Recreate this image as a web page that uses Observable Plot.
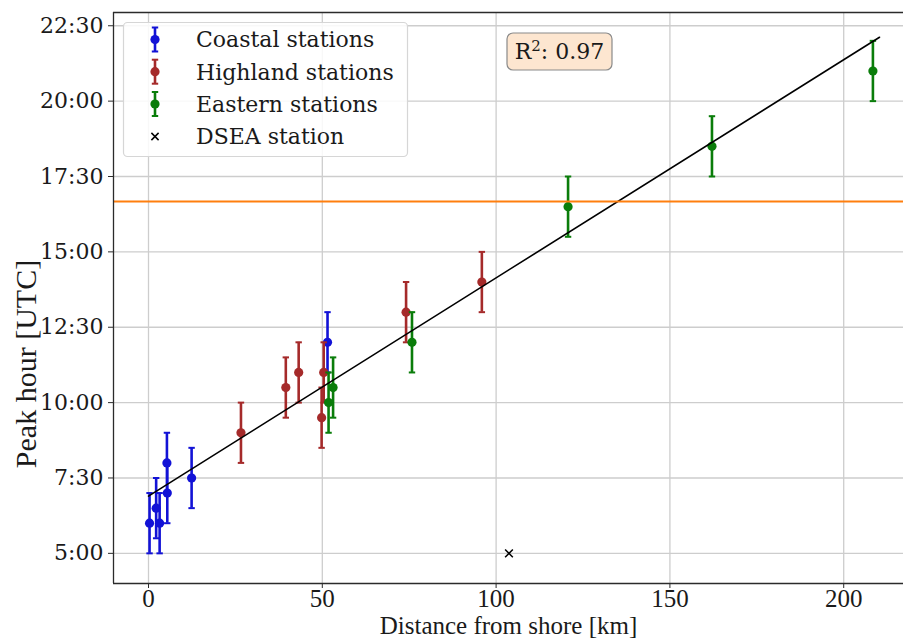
<!DOCTYPE html>
<html>
<head>
<meta charset="utf-8">
<script src="https://cdn.jsdelivr.net/npm/d3@7"></script>
<script src="https://cdn.jsdelivr.net/npm/@observablehq/plot@0.6"></script>
<style>
  html, body { margin: 0; padding: 0; background: white; }
  #chart svg { display: block; }
</style>
</head>
<body>
<div id="chart"></div>
<script>
// ---- Data ----
const coastalX   = [0.3, 2.2, 3.2, 5.3, 5.4, 12.4, 51.5];
const coastalY   = [6.0, 6.5, 6.0, 8.0, 7.0, 7.5, 12.0];
const coastalErr = [1, 1, 1, 1, 1, 1, 1];

const highlandX   = [26.6, 39.5, 43.2, 49.8, 50.4, 74.1, 95.9];
const highlandY   = [9.0, 10.5, 11.0, 9.5, 11.0, 13.0, 14.0];
const highlandErr = [1, 1, 1, 1, 1, 1, 1];

const easternX   = [51.8, 53.1, 75.8, 120.7, 162.1, 208.4];
const easternY   = [10.0, 10.5, 12.0, 16.5, 18.5, 21.0];
const easternErr = [1, 1, 1, 1, 1, 1];

const dseaX = [103.7];
const dseaY = [5.0];

const fitX = [0, 210.3];
const fitY = [6.9, 22.12];

const thresholdY = [16.67];

const xTicks = [0, 50, 100, 150, 200];
const yTicks = [5, 7.5, 10, 12.5, 15, 17.5, 20, 22.5];
const yTickLabels = ["5:00", "7:30", "10:00", "12:30", "15:00", "17:30", "20:00", "22:30"];

const seriesNames = ["Coastal stations", "Highland stations", "Eastern stations", "DSEA station"];
const rSquared = "0.97";

// ---- Build tables ----
const mk = (xs, ys, es) => xs.map((x, i) => ({x, y: ys[i], e: es[i]}));
const coastal = mk(coastalX, coastalY, coastalErr);
const highland = mk(highlandX, highlandY, highlandErr);
const eastern = mk(easternX, easternY, easternErr);
const dsea = dseaX.map((x, i) => ({x, y: dseaY[i]}));
const fit = fitX.map((x, i) => ({x, y: fitY[i]}));

const colors = {coastal: "#1212d6", highland: "#a52a2a", eastern: "#0a7d0a"};

const xDomain = [-10.07, 217.2];
const yDomain = [4.0, 22.94];

// custom symbol: horizontal cap line
const capSymbol = {
  draw(context, size) {
    const r = Math.sqrt(size / Math.PI);
    context.moveTo(-r, 0);
    context.lineTo(r, 0);
  }
};

function errorMarks(data, color) {
  return [
    Plot.ruleX(data, {x: "x", y1: d => d.y - d.e, y2: d => d.y + d.e, stroke: color, strokeWidth: 2.6}),
    Plot.dot(data, {x: "x", y: d => d.y + d.e, symbol: capSymbol, r: 3.2, stroke: color, strokeWidth: 2}),
    Plot.dot(data, {x: "x", y: d => d.y - d.e, symbol: capSymbol, r: 3.2, stroke: color, strokeWidth: 2}),
    Plot.dot(data, {x: "x", y: "y", r: 4.6, fill: color, stroke: "none"})
  ];
}

const gridColor = "#cdcdcd";
const spineColor = "#2b2b2b";

const chart = Plot.plot({
  width: 903,
  height: 638,
  marginLeft: 113,
  marginRight: 0,
  marginTop: 12,
  marginBottom: 55,
  style: {fontFamily: "DejaVu Serif", fontSize: "22px", background: "white", color: "#1a1a1a"},
  x: {domain: xDomain},
  y: {domain: yDomain},
  marks: [
    Plot.gridX(xTicks, {stroke: gridColor, strokeOpacity: 1, strokeWidth: 1.3}),
    Plot.gridY(yTicks, {stroke: gridColor, strokeOpacity: 1, strokeWidth: 1.3}),
    ...errorMarks(coastal, colors.coastal),
    ...errorMarks(highland, colors.highland),
    ...errorMarks(eastern, colors.eastern),
    Plot.dot(dsea, {x: "x", y: "y", symbol: "times", r: 3.6, stroke: "black", strokeWidth: 1.5}),
    Plot.line(fit, {x: "x", y: "y", stroke: "black", strokeWidth: 1.6}),
    Plot.ruleY(thresholdY, {stroke: "#ff7f0e", strokeWidth: 2}),
    // spines
    Plot.ruleX([xDomain[0]], {stroke: spineColor, strokeWidth: 1.3}),
    Plot.ruleY([yDomain[0]], {stroke: spineColor, strokeWidth: 1.3}),
    Plot.ruleY([yDomain[1]], {stroke: spineColor, strokeWidth: 1.3}),
    Plot.axisX({ticks: xTicks, tickSize: 5, tickPadding: 1, fontFamily: "Liberation Serif", fontSize: 25, label: null, stroke: spineColor}),
    Plot.axisY({ticks: yTicks, tickFormat: d => yTickLabels[yTicks.indexOf(d)], tickSize: 5, tickPadding: 5, fontFamily: "DejaVu Serif", fontSize: 22, label: null, stroke: spineColor}),
    Plot.text(["Distance from shore [km]"], {frameAnchor: "bottom", dy: 50, fontFamily: "Liberation Serif", fontSize: 25, fill: "#1a1a1a"}),
    Plot.text(["Peak hour [UTC]"], {frameAnchor: "left", textAnchor: "middle", dx: -87, dy: 66, rotate: -90, fontFamily: "Liberation Serif", fontSize: 30, fill: "#1a1a1a"})
  ]
});

document.getElementById("chart").appendChild(chart);

// ---- Overlays: legend and R² box ----
const svg = d3.select(chart);

const lg = svg.append("g").attr("class", "legend").attr("text-anchor", "start");
lg.append("rect")
  .attr("x", 123.5).attr("y", 22.5).attr("width", 284).attr("height", 134)
  .attr("rx", 4).attr("ry", 4)
  .attr("fill", "white").attr("fill-opacity", 0.85)
  .attr("stroke", "#d6d6d6").attr("stroke-width", 1.2);

const rows = [39.5, 71.7, 104, 136.5];
const legendColors = [colors.coastal, colors.highland, colors.eastern];
const mx = 155;
legendColors.forEach((c, i) => {
  const cy = rows[i];
  lg.append("line").attr("x1", mx).attr("x2", mx).attr("y1", cy - 12).attr("y2", cy + 12)
    .attr("stroke", c).attr("stroke-width", 2.6);
  [cy - 12, cy + 12].forEach(yy => lg.append("line")
    .attr("x1", mx - 3.2).attr("x2", mx + 3.2).attr("y1", yy).attr("y2", yy)
    .attr("stroke", c).attr("stroke-width", 2));
  lg.append("circle").attr("cx", mx).attr("cy", cy).attr("r", 4.6).attr("fill", c);
});
{
  const cy = rows[3], s = 3.6;
  lg.append("path").attr("d", `M${mx - s},${cy - s}L${mx + s},${cy + s}M${mx - s},${cy + s}L${mx + s},${cy - s}`)
    .attr("stroke", "black").attr("stroke-width", 1.5).attr("fill", "none");
}
seriesNames.forEach((name, i) => {
  lg.append("text").attr("x", 196).attr("y", rows[i]).attr("dy", "0.36em")
    .attr("text-anchor", "start")
    .attr("font-family", "DejaVu Serif").attr("font-size", 22).attr("fill", "#1a1a1a")
    .text(name);
});

const rb = svg.append("g").attr("class", "r2");
rb.append("rect")
  .attr("x", 507).attr("y", 33).attr("width", 105).attr("height", 37)
  .attr("rx", 6).attr("ry", 6)
  .attr("fill", "#fde6d0").attr("stroke", "#8a8a8a").attr("stroke-width", 1.2);
const rt = rb.append("text").attr("x", 559.5).attr("y", 51.5).attr("dy", "0.36em")
  .attr("text-anchor", "middle")
  .attr("font-family", "DejaVu Serif").attr("font-size", 22).attr("fill", "#1a1a1a");
rt.append("tspan").text("R");
rt.append("tspan").attr("font-size", 15).attr("dy", "-0.55em").text("2");
rt.append("tspan").attr("dy", "0.35em").text(": " + rSquared);
</script>
</body>
</html>
